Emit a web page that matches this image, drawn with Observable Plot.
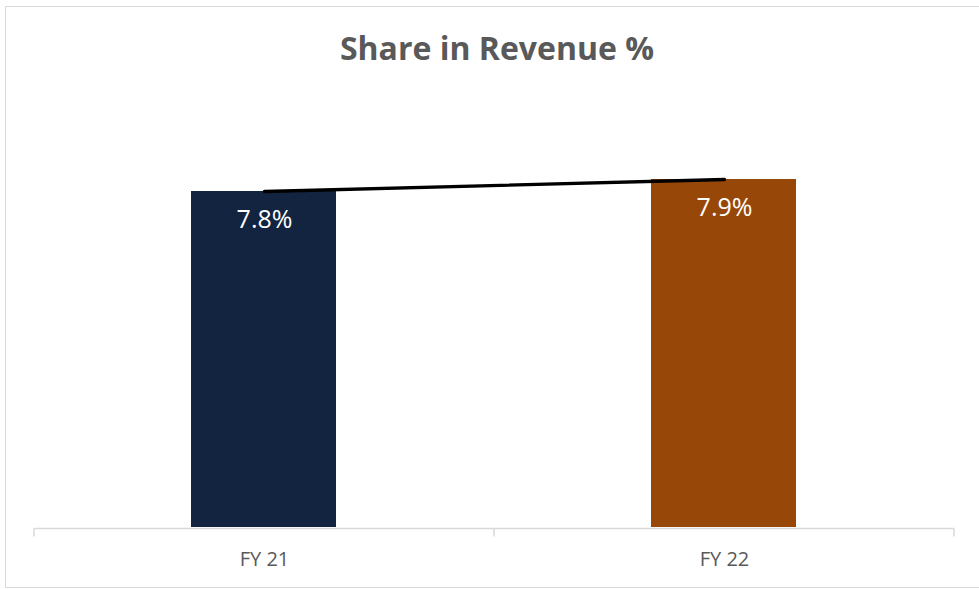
<!DOCTYPE html>
<html>
<head>
<meta charset="utf-8">
<script src="https://cdn.jsdelivr.net/npm/d3@7"></script>
<script src="https://cdn.jsdelivr.net/npm/@observablehq/plot@0.6"></script>
<style>
  html, body { margin: 0; padding: 0; background: #fff; }
  #wrap { position: relative; width: 979px; height: 589px; overflow: hidden; font-family: "Open Sans", sans-serif; }
  #frame { position: absolute; left: 5px; top: 6px; width: 990px; height: 582px; border: 1px solid #d9d9d9; box-sizing: border-box; }
  #title { position: absolute; left: 0; width: 994px; top: 26px; text-align: center; font-size: 32px; font-weight: 700; color: #595959; line-height: 44px; }
  #chart { position: absolute; left: 0; top: 0; }
</style>
</head>
<body>
<div id="wrap">
  <div id="frame"></div>
  <div id="chart"></div>
  <div id="title">Share in Revenue %</div>
</div>
<script>
const categories = ["FY 21", "FY 22"];
const shares = [7.8, 7.9];
const valueLabels = ["7.8%", "7.9%"];
const barColors = ["#12243f", "#974708"];

const data = categories.map((c, i) => ({cat: c, value: shares[i], label: valueLabels[i], color: barColors[i]}));

// baseline and tick marks at category band edges, computed from the x scale
function bandEdgeTicks(index, scales, values, dimensions) {
  const x = scales.x;
  const bw = x.bandwidth ? x.bandwidth() : 0;
  const edges = [];
  categories.forEach((c, i) => { edges.push(x(c)); if (i === categories.length - 1) edges.push(x(c) + bw); });
  const yb = dimensions.height - dimensions.marginBottom;
  const g = d3.create("svg:g");
  g.append("line")
    .attr("x1", edges[0]).attr("x2", edges[edges.length - 1])
    .attr("y1", yb + 1.5).attr("y2", yb + 1.5)
    .attr("stroke", "#d9d9d9").attr("stroke-width", 1.5);
  edges.forEach(e => g.append("line")
    .attr("x1", e).attr("x2", e).attr("y1", yb + 1.5).attr("y2", yb + 9.5)
    .attr("stroke", "#d9d9d9").attr("stroke-width", 1.5));
  return g.node();
}

const plot = Plot.plot({
  width: 979,
  height: 589,
  marginLeft: 34,
  marginRight: 25,
  marginTop: 47,
  marginBottom: 62,
  style: {fontFamily: "Open Sans, sans-serif", background: "transparent", overflow: "visible"},
  x: {domain: categories, padding: 0, label: null, axis: null},
  y: {domain: [5, 9], axis: null},
  marks: [
    Plot.barY(data, {x: "cat", y1: 5, y2: "value", fill: "color", insetLeft: 157, insetRight: 158}),
    bandEdgeTicks,
    Plot.line(data, {x: "cat", y: "value", stroke: "#000", strokeWidth: 3.4, strokeLinecap: "round"}),
    Plot.text(data, {x: "cat", y: "value", text: "label", fill: "#fff", fontSize: 25, dy: 28}),
    Plot.text(data, {x: "cat", y: 5, text: "cat", fill: "#595959", fontSize: 20, dy: 32})
  ]
});
document.getElementById("chart").appendChild(plot);
</script>
</body>
</html>
